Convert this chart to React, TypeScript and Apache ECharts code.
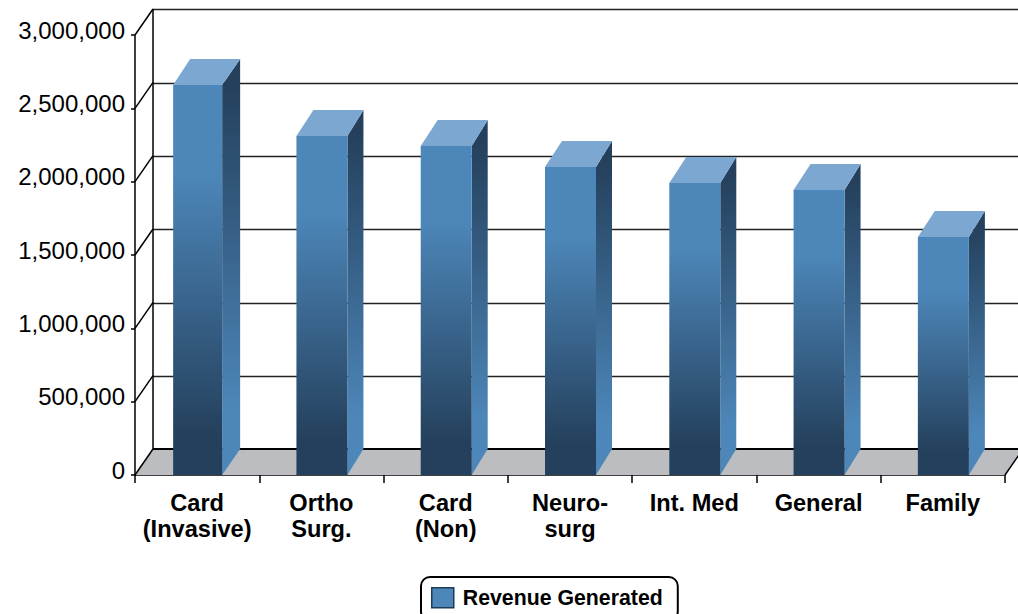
import React, { useEffect, useRef } from "react";
import * as echarts from "echarts";

const categories = ["Card\n(Invasive)", "Ortho\nSurg.", "Card\n(Non)", "Neuro-\nsurg", "Int. Med", "General", "Family"];
const revenue = [2659000, 2311000, 2243000, 2100000, 1991000, 1943000, 1623000];
const yTicks = [0, 500000, 1000000, 1500000, 2000000, 2500000, 3000000];
const SERIES_NAME = "Revenue Generated";

const DX = 18;
const DY = 26;
const FONT = "'Liberation Sans', Arial, sans-serif";
const LIGHT = "#4d87ba";
const DARK = "#24405c";

const grad = (stops: [number, string][]) => ({
  type: "linear", x: 0, y: 0, x2: 0, y2: 1,
  colorStops: stops.map(([offset, color]) => ({ offset, color })),
});

export default function App() {
  const ref = useRef<HTMLDivElement>(null);
  useEffect(() => {
    document.body.style.margin = "0";
    document.body.style.overflow = "hidden";
    const chart = echarts.init(ref.current!, null, { renderer: "svg" });

    const poly = (points: number[][], fill: any) => ({
      type: "polygon", shape: { points }, style: { fill, stroke: null },
    });

    chart.setOption({
      animation: false,
      backgroundColor: "#ffffff",
      grid: [
        { left: 135, right: 13, top: 35, height: 440 },
        { left: 153, right: 0, top: 9.5, height: 440 },
      ],
      xAxis: [
        {
          type: "category", gridIndex: 0, data: categories,
          axisLine: { show: true, lineStyle: { color: "#000", width: 1.5 } },
          axisTick: { show: true, length: 8, lineStyle: { color: "#000", width: 1.5 } },
          axisLabel: { interval: 0, color: "#000", fontFamily: FONT, fontWeight: "bold", fontSize: 23.6, lineHeight: 26, margin: 15 },
          splitLine: { show: false },
        },
        {
          type: "category", gridIndex: 1, data: categories,
          axisLine: { show: false }, axisTick: { show: false }, axisLabel: { show: false }, splitLine: { show: false },
        },
      ],
      yAxis: [
        {
          type: "value", gridIndex: 0, min: 0, max: 3000000, interval: 500000,
          axisLine: { show: true, lineStyle: { color: "#000", width: 1.5 } },
          axisTick: { show: true, length: 4, lineStyle: { color: "#000", width: 1.5 } },
          axisLabel: {
            margin: 10,
            formatter: (v: number) => `{n|${v.toLocaleString("en-US")}}`,
            rich: { n: { color: "#000", fontFamily: FONT, fontSize: 24, padding: [0, 0, 10, 0] } },
          },
          splitLine: { show: false },
        },
        {
          type: "value", gridIndex: 1, min: 0, max: 3000000, interval: 500000,
          axisLine: { show: true, onZero: false, lineStyle: { color: "#000", width: 1.5 } },
          axisTick: { show: false }, axisLabel: { show: false },
          splitLine: { show: true, lineStyle: { color: "#222", width: 1.3 } },
        },
      ],
      legend: {
        left: 421, top: 577,
        data: [{ name: SERIES_NAME, icon: "rect", itemStyle: { color: LIGHT, borderColor: "#1f3a55", borderWidth: 1.5 } }],
        itemWidth: 22, itemHeight: 20, itemGap: 0,
        padding: [10, 15, 12, 10],
        borderColor: "#000", borderWidth: 2, borderRadius: 9,
        textStyle: { color: "#000", fontFamily: FONT, fontWeight: "bold", fontSize: 21.3, padding: [0, 0, 0, 4] },
      },
      series: [
        {
          type: "custom", name: "floor", xAxisIndex: 0, yAxisIndex: 0, z: 1, silent: true,
          data: [[0, 0]],
          renderItem: (_p: any, api: any) => {
            const first = api.coord([0, 0]);
            const last = api.coord([categories.length - 1, 0]);
            const half = api.size([1, 0])[0] / 2;
            const l = first[0] - half, r = last[0] + half, y = first[1];
            return {
              type: "group",
              children: [
                poly([[l, y], [r, y], [r + DX, y - DY], [l + DX, y - DY]], "#bcbdc0"),
                { type: "line", shape: { x1: r, y1: y, x2: r + DX, y2: y - DY }, style: { stroke: "#000", lineWidth: 1.5 } },
                { type: "line", shape: { x1: l + DX, y1: y - DY, x2: r + DX, y2: y - DY }, style: { stroke: "#000", lineWidth: 2 } },
              ],
            };
          },
        },
        {
          type: "custom", name: "walls", xAxisIndex: 0, yAxisIndex: 0, z: 2, silent: true,
          data: yTicks.map((v) => [0, v]),
          renderItem: (_p: any, api: any) => {
            const c = api.coord([0, api.value(1)]);
            const x = c[0] - api.size([1, 0])[0] / 2;
            return { type: "line", shape: { x1: x, y1: c[1], x2: x + DX, y2: c[1] - DY }, style: { stroke: "#000", lineWidth: 1.5 } };
          },
        },
        {
          type: "custom", name: SERIES_NAME, xAxisIndex: 0, yAxisIndex: 0, z: 3,
          itemStyle: { color: LIGHT },
          data: revenue.map((v, i) => [i, v]),
          renderItem: (p: any, api: any) => {
            const i = api.value(0);
            const top = api.coord([i, api.value(1)]);
            const base = api.coord([i, 0]);
            const wide = p.dataIndex !== 0;
            const w = wide ? 51 : 49;
            const dx = wide ? 16 : 18;
            const l = top[0] - w / 2 + 0.5, r = l + w;
            return {
              type: "group",
              children: [
                poly([[r, top[1]], [r + dx, top[1] - DY], [r + dx, base[1] - DY], [r, base[1]]],
                  grad([[0, DARK], [0.06, DARK], [0.85, LIGHT], [1, LIGHT]])),
                poly([[l, top[1]], [l + 17, top[1] - DY], [r + dx, top[1] - DY], [r, top[1]]], "#7ba7d1"),
                poly([[l, top[1]], [r, top[1]], [r, base[1]], [l, base[1]]],
                  grad([[0, LIGHT], [0.22, LIGHT], [0.9, DARK], [1, DARK]])),
              ],
            };
          },
        },
      ],
    });
    return () => chart.dispose();
  }, []);
  return <div ref={ref} style={{ width: 1018, height: 614 }} />;
}
